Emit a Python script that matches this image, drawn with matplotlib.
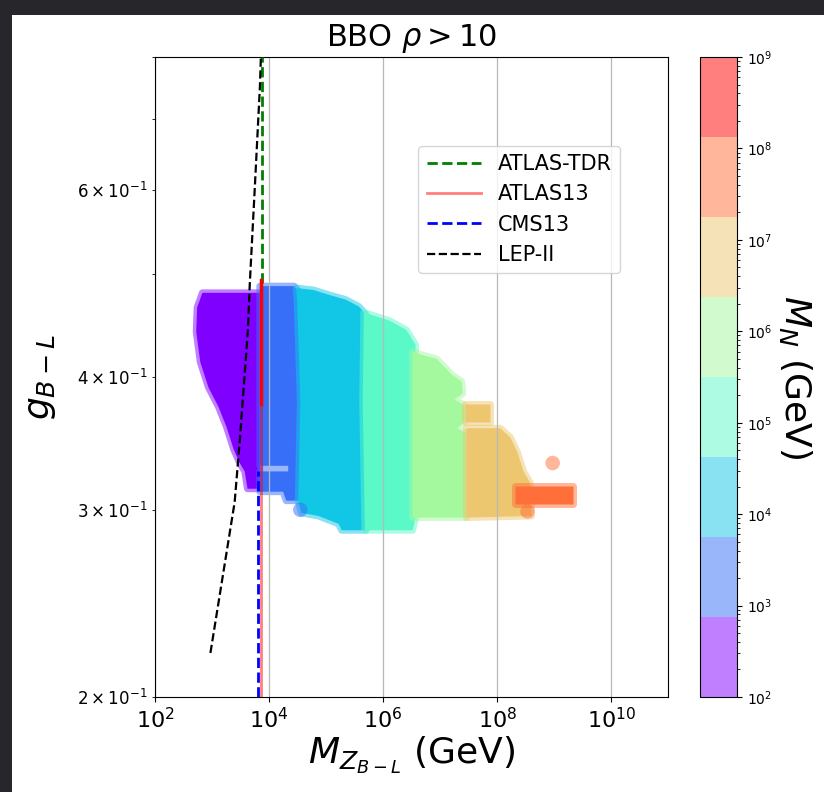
import matplotlib

matplotlib.use("Agg")
import matplotlib.pyplot as plt
import numpy as np
from matplotlib.colors import LogNorm
from matplotlib.patches import Polygon, Rectangle

# * -------------------------------------------------------------------------------- * #
# * DATA: collider limits in the (M_Z_B-L, g_B-L) plane

atlas_tdr_m = [7.5e3, 7.5e3]
atlas_tdr_g = [0.49, 0.80]
atlas13_m = [7.1e3, 7.1e3]
atlas13_g = [0.20, 0.494]
atlas13_upper_g = [0.377, 0.494]  # part of the limit that is drawn over again
cms13_m = [6.4e3, 6.4e3]
cms13_g = [0.20, 0.326]
lep_m = [940, 2500, 3070, 4250, 4610, 5650, 6930, 7210]
lep_g = [0.220, 0.305, 0.348, 0.441, 0.490, 0.604, 0.750, 0.800]

# * -------------------------------------------------------------------------------- * #
# * DATA: BBO region (rho > 10), outline of each M_N band

purple_m = [680, 6900, 6900, 4200, 3750, 3070, 2400, 1800, 1300, 870, 625, 530, 550]
purple_g = [0.480, 0.480, 0.314, 0.314, 0.326, 0.332, 0.342, 0.359, 0.375, 0.391,
            0.413, 0.441, 0.465]
blue_m = [6900, 27700, 36800, 40000, 40000, 20000, 17700, 6900, 6900, 21700, 21700, 6900]
blue_g = [0.487, 0.487, 0.478, 0.450, 0.306, 0.306, 0.312, 0.312, 0.326, 0.326, 0.330,
          0.330]
cyan_m = [30000, 60000, 1.11e5, 2.21e5, 3.76e5, 5.0e5, 5.0e5, 1.88e5, 1.66e5, 73600,
          36800, 32600, 35400, 31300]
cyan_g = [0.485, 0.483, 0.478, 0.473, 0.466, 0.458, 0.287, 0.287, 0.291, 0.296, 0.298,
          0.306, 0.379, 0.470]
aqua_m = [4.6e5, 1.28e6, 2.55e6, 3.7e6, 3.7e6, 3.3e6, 4.8e5, 4.4e5]
aqua_g = [0.460, 0.452, 0.443, 0.429, 0.295, 0.287, 0.287, 0.379]
lgreen_m = [3.3e6, 8.7e6, 1.6e7, 2.4e7, 2.5e7, 1.8e7, 2.7e7, 2.7e7, 2.0e7, 2.9e7, 2.9e7,
            3.3e6]
lgreen_g = [0.422, 0.416, 0.402, 0.396, 0.386, 0.381, 0.376, 0.363, 0.358, 0.354, 0.295,
            0.295]
tan_m = [2.9e7, 1.13e8, 1.7e8, 2.26e8, 2.9e8, 3.8e8, 4.0e8, 2.9e7]
tan_g = [0.358, 0.358, 0.351, 0.340, 0.326, 0.318, 0.296, 0.295]
tan_bump_m = [2.72e7, 7.5e7, 7.5e7, 2.72e7]
tan_bump_g = [0.377, 0.377, 0.363, 0.363]
orange_m = [2.08e8, 2.12e9, 2.12e9, 2.08e8]
orange_g = [0.316, 0.316, 0.304, 0.304]

band_m = [purple_m, blue_m, cyan_m, aqua_m, lgreen_m, tan_m, tan_bump_m, orange_m]
band_g = [purple_g, blue_g, cyan_g, aqua_g, lgreen_g, tan_g, tan_bump_g, orange_g]
band_mn = [3e2, 2e3, 1.5e4, 1e5, 1e6, 6e6, 6e6, 5e7]

# isolated points
dots_m = [35400, 3.4e8, 9.4e8]
dots_g = [0.300, 0.299, 0.332]
dots_mn = [2e3, 5e7, 5e7]

# * -------------------------------------------------------------------------------- * #
# * PLOT

cmap = plt.get_cmap("rainbow", 8)
norm = LogNorm(1e2, 1e9)

fig = plt.figure(figsize=(8.24, 7.92), dpi=100)
fig.patch.set_facecolor("white")

# dark screenshot border on the left and top
frame = "#27272b"
fig.patches.append(Rectangle((0, 0), 12 / 824, 1, transform=fig.transFigure,
                             facecolor=frame, edgecolor="none", zorder=-1))
fig.patches.append(Rectangle((0, 1 - 15 / 792), 1, 15 / 792, transform=fig.transFigure,
                             facecolor=frame, edgecolor="none", zorder=-1))

ax = fig.add_axes([0.188, 0.12, 0.623, 0.808])
cax = fig.add_axes([0.850, 0.12, 0.045, 0.808])

for m, g, mn in zip(band_m, band_g, band_mn, strict=True):
    color = cmap(norm(mn))
    ax.add_patch(
        Polygon(
            np.column_stack([m, g]),
            closed=True,
            facecolor=color,
            edgecolor=(*color[:3], 0.5),
            linewidth=5,
            joinstyle="round",
            zorder=1,
        )
    )

dots = ax.scatter(
    dots_m, dots_g, c=dots_mn, cmap=cmap, norm=norm, s=110, alpha=0.5,
    edgecolors="none", zorder=2,
)

ax.plot(atlas_tdr_m, atlas_tdr_g, "g--", lw=2, label="ATLAS-TDR", zorder=3)
ax.plot(atlas13_m, atlas13_g, "r-", lw=2, alpha=0.5, label="ATLAS13", zorder=3)
ax.plot(atlas13_m, atlas13_upper_g, "r-", lw=2.5, zorder=3)
ax.plot(cms13_m, cms13_g, "b--", lw=2, label="CMS13", zorder=3)
ax.plot(lep_m, lep_g, "k--", lw=1.6, label="LEP-II", zorder=3)

ax.set_xscale("log")
ax.set_yscale("log")
ax.set_xlim(1e2, 1e11)
ax.set_ylim(0.2, 0.8)
ax.set_xticks([1e2, 1e4, 1e6, 1e8, 1e10])
ax.grid(True, color="#b8b8b8", lw=0.9)
ax.tick_params(axis="x", which="major", labelsize=16)
ax.tick_params(axis="y", which="both", labelsize=12)

ax.set_title(r"BBO $\rho > 10$", fontsize=22, pad=8)
ax.set_xlabel(r"$M_{Z_{B-L}}$ (GeV)", fontsize=26, labelpad=2)
ax.set_ylabel(r"$g_{B-L}$", fontsize=26, labelpad=14)

ax.legend(
    loc="upper right",
    bbox_to_anchor=(0.926, 0.878),
    fontsize=15,
    handlelength=2.6,
)

cbar = fig.colorbar(dots, cax=cax)
cbar.ax.tick_params(labelsize=10)
cbar.set_label(r"$M_N$ (GeV)", fontsize=26, rotation=270, labelpad=30)

fig.savefig("out.png", dpi=100)
